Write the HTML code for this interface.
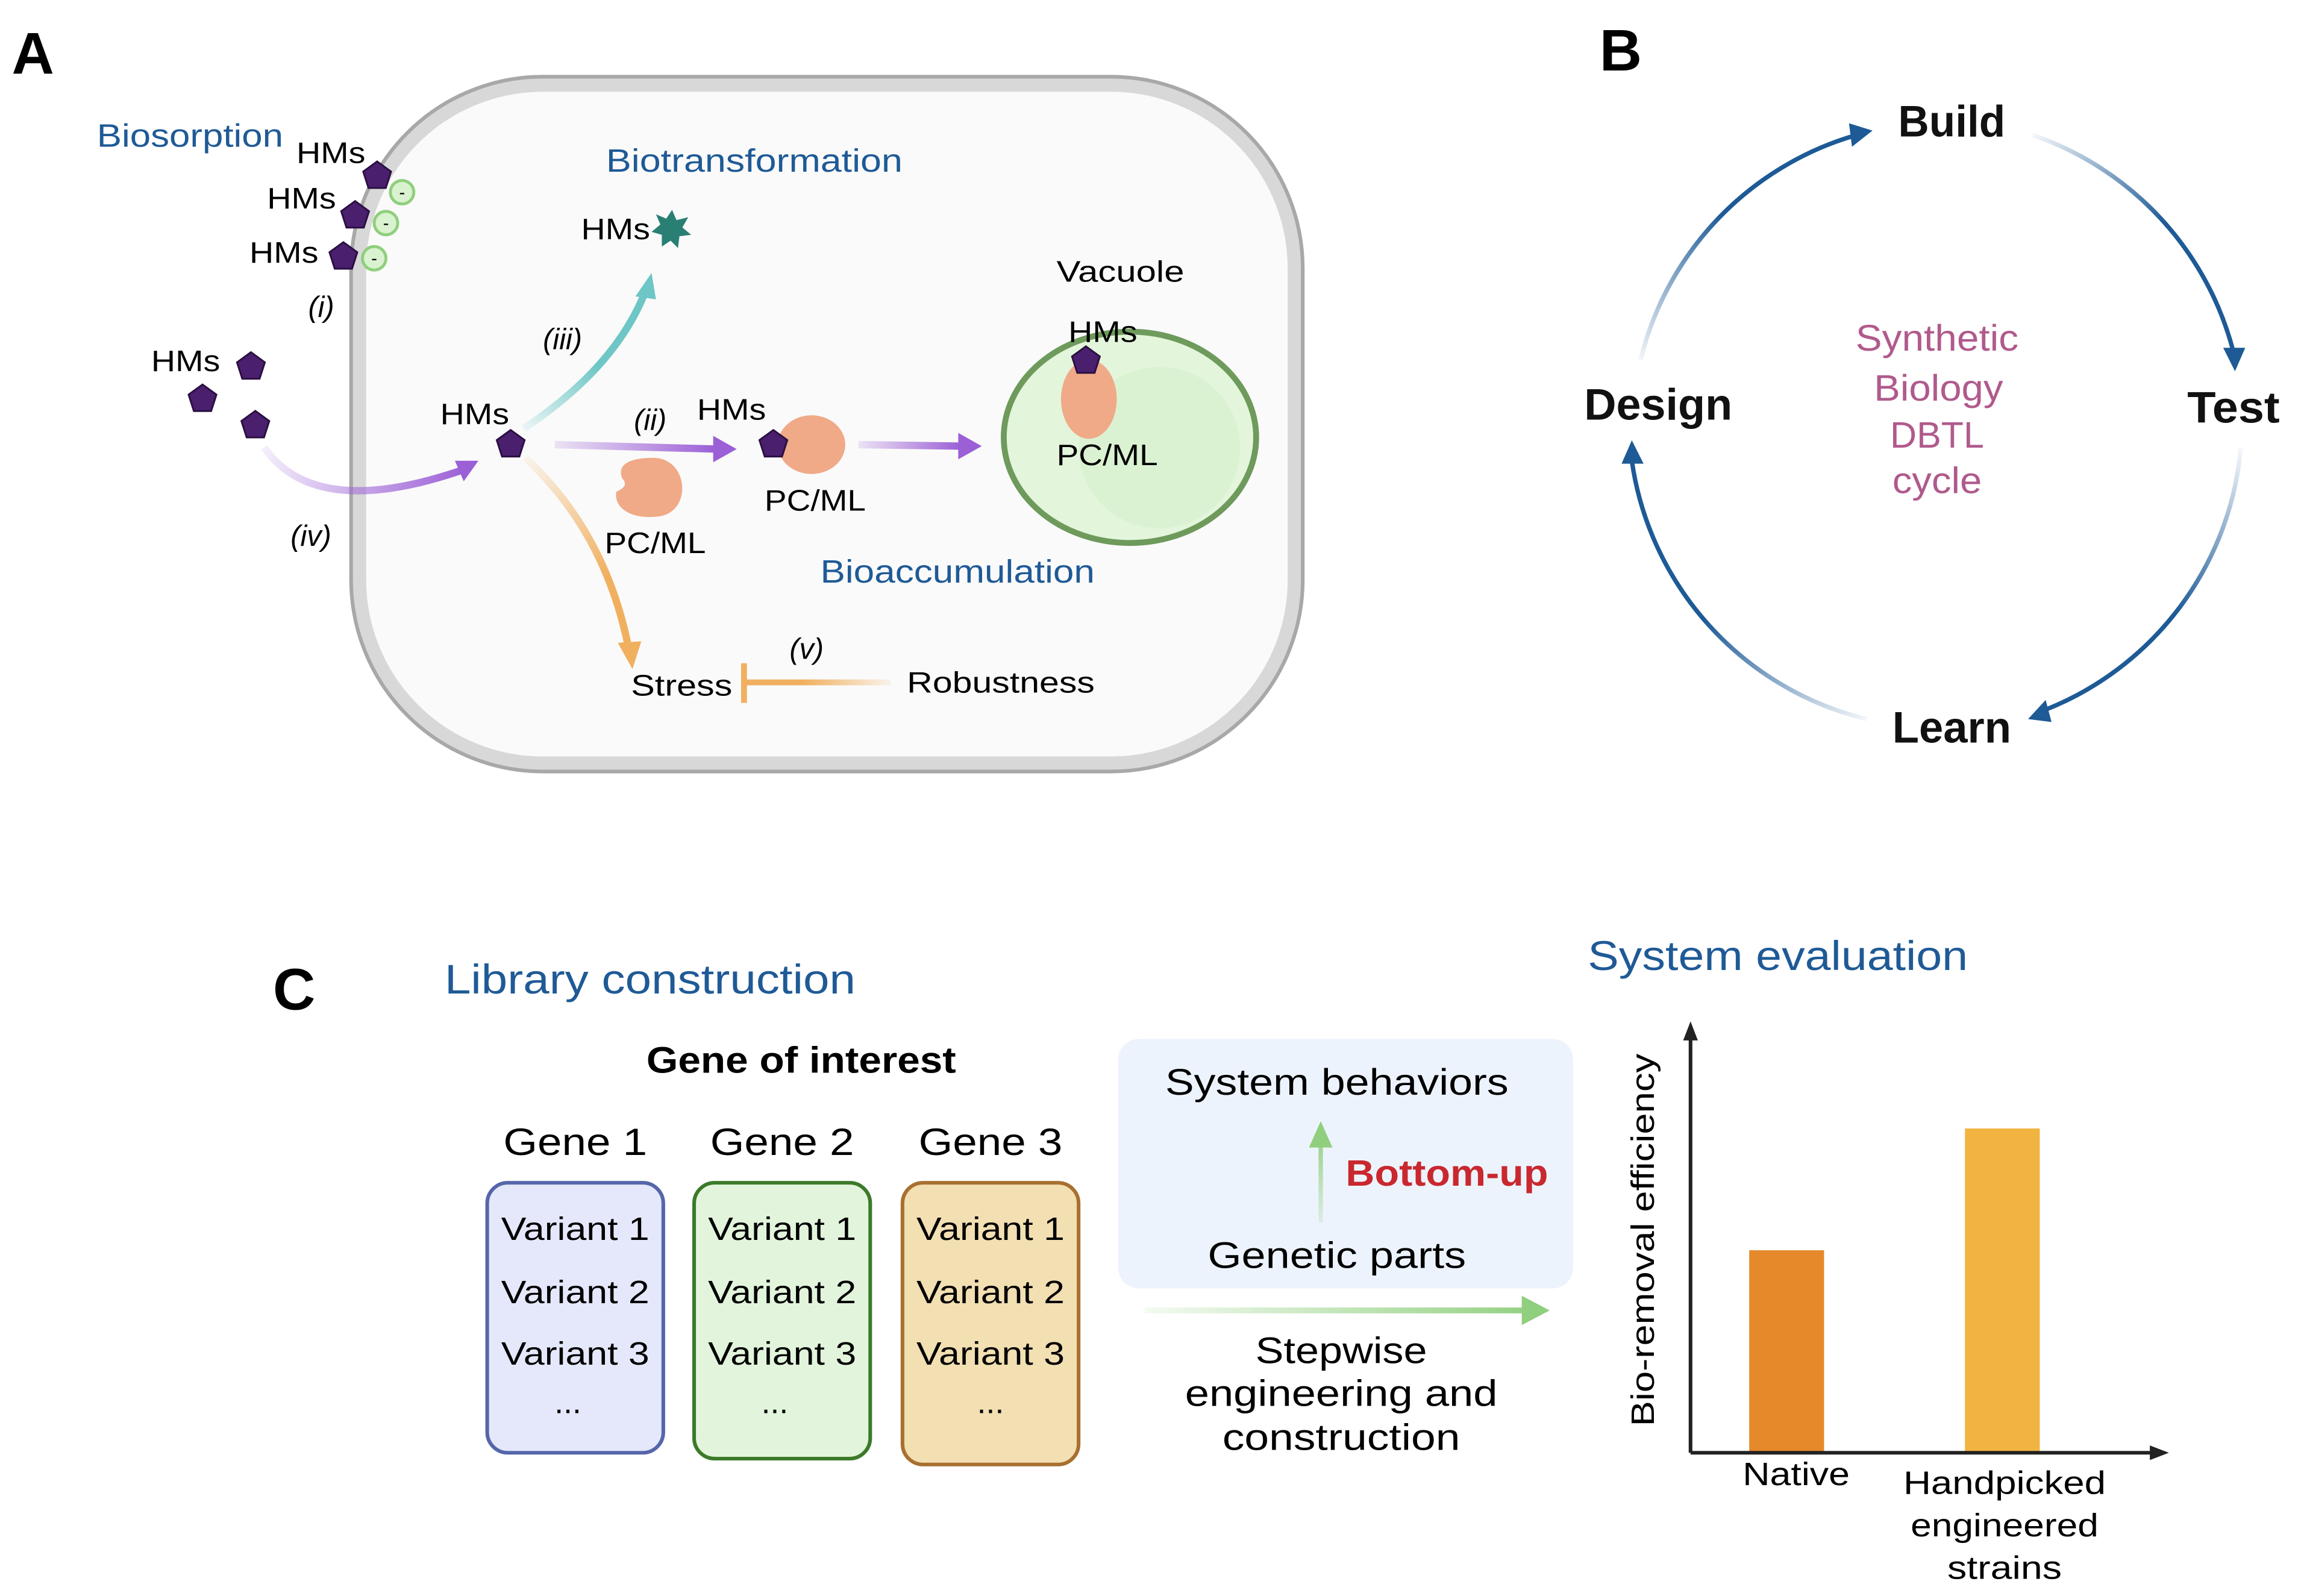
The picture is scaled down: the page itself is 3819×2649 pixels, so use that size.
<!DOCTYPE html>
<html><head><meta charset="utf-8"><style>
html,body{margin:0;padding:0;background:#fff;}
svg{display:block;}
text{font-family:"Liberation Sans","DejaVu Sans",sans-serif;}
</style></head><body>
<svg width="3819" height="2649" viewBox="0 0 1568 1087.6" xmlns="http://www.w3.org/2000/svg">
<defs>
<linearGradient id="gPur" x1="0" y1="0" x2="1" y2="0"><stop offset="0" stop-color="#9b5fd6" stop-opacity="0.15"/><stop offset="1" stop-color="#9b5fd6"/></linearGradient>
<linearGradient id="gPur2" gradientUnits="userSpaceOnUse" x1="180" y1="300" x2="320" y2="320"><stop offset="0" stop-color="#9b5fd6" stop-opacity="0.1"/><stop offset="1" stop-color="#9b5fd6"/></linearGradient>
<linearGradient id="gCy" gradientUnits="userSpaceOnUse" x1="360" y1="295" x2="445" y2="195"><stop offset="0" stop-color="#6ec6c6" stop-opacity="0.1"/><stop offset="0.5" stop-color="#6ec6c6"/></linearGradient>
<linearGradient id="gOr" gradientUnits="userSpaceOnUse" x1="360" y1="312" x2="432" y2="455"><stop offset="0" stop-color="#f0b060" stop-opacity="0.1"/><stop offset="0.6" stop-color="#f0b060"/></linearGradient>
<linearGradient id="gOr2" gradientUnits="userSpaceOnUse" x1="607" y1="0" x2="507" y2="0"><stop offset="0" stop-color="#f0b060" stop-opacity="0.1"/><stop offset="0.6" stop-color="#f0b060"/></linearGradient>
<linearGradient id="gGr" gradientUnits="userSpaceOnUse" x1="780" y1="0" x2="1055" y2="0"><stop offset="0" stop-color="#8fcf7d" stop-opacity="0.1"/><stop offset="1" stop-color="#8fcf7d"/></linearGradient>
<linearGradient id="gGrV" gradientUnits="userSpaceOnUse" x1="0" y1="832" x2="0" y2="768"><stop offset="0" stop-color="#8fcf7d" stop-opacity="0.2"/><stop offset="1" stop-color="#8fcf7d"/></linearGradient>
<linearGradient id="b1" gradientUnits="userSpaceOnUse" x1="1115" y1="245" x2="1275" y2="90"><stop offset="0" stop-color="#1d5a96" stop-opacity="0.05"/><stop offset="0.5" stop-color="#1d5a96"/></linearGradient>
<linearGradient id="b2" gradientUnits="userSpaceOnUse" x1="1385" y1="92" x2="1523" y2="250"><stop offset="0" stop-color="#1d5a96" stop-opacity="0.05"/><stop offset="0.5" stop-color="#1d5a96"/></linearGradient>
<linearGradient id="b3" gradientUnits="userSpaceOnUse" x1="1525" y1="305" x2="1385" y2="488"><stop offset="0" stop-color="#1d5a96" stop-opacity="0.05"/><stop offset="0.5" stop-color="#1d5a96"/></linearGradient>
<linearGradient id="b4" gradientUnits="userSpaceOnUse" x1="1272" y1="490" x2="1112" y2="302"><stop offset="0" stop-color="#1d5a96" stop-opacity="0.05"/><stop offset="0.5" stop-color="#1d5a96"/></linearGradient>
<polygon id="pent" points="0,-10 9.5,-3.1 5.9,8.1 -5.9,8.1 -9.5,-3.1" fill="#4a1f6e" stroke="#2a0f40" stroke-width="1.2"/>
</defs>

<!-- Panel A -->
<text x="8" y="50" font-size="40" font-weight="bold">A</text>
<rect x="245" y="58" width="637" height="462" rx="125" fill="#fafafa" stroke="#a8a8a8" stroke-width="14"/>
<rect x="245" y="58" width="637" height="462" rx="125" fill="#fafafa" stroke="#d8d8d8" stroke-width="9"/>

<text x="66" y="100" font-size="22" fill="#1f5a96" textLength="127" lengthAdjust="spacingAndGlyphs">Biosorption</text>
<text x="202" y="111" font-size="20" textLength="47" lengthAdjust="spacingAndGlyphs">HMs</text>
<text x="182" y="142" font-size="20" textLength="47" lengthAdjust="spacingAndGlyphs">HMs</text>
<text x="170" y="179" font-size="20" textLength="47" lengthAdjust="spacingAndGlyphs">HMs</text>
<use href="#pent" x="257" y="120"/><use href="#pent" x="242" y="147"/><use href="#pent" x="234" y="175"/>
<g fill="#d9f2cf" stroke="#8fcf7d" stroke-width="2">
<circle cx="274" cy="131" r="8"/><circle cx="263" cy="152" r="8"/><circle cx="255" cy="176" r="8"/></g>
<g font-size="12" text-anchor="middle"><text x="274" y="135">-</text><text x="263" y="156">-</text><text x="255" y="180">-</text></g>
<text x="210" y="216" font-size="20" font-style="italic">(i)</text>

<text x="103" y="253" font-size="20" textLength="47" lengthAdjust="spacingAndGlyphs">HMs</text>
<use href="#pent" x="171" y="250"/><use href="#pent" x="138" y="272"/><use href="#pent" x="174" y="290"/>
<path d="M180,305 Q215,355 316,320" fill="none" stroke="url(#gPur2)" stroke-width="5"/>
<polygon points="326,314 310,314 316,328" fill="#9b5fd6"/>
<text x="198" y="372" font-size="20" font-style="italic">(iv)</text>

<text x="300" y="289" font-size="20" textLength="47" lengthAdjust="spacingAndGlyphs">HMs</text>
<use href="#pent" x="348" y="303"/>
<path d="M357,292 Q420,250 440,198" fill="none" stroke="url(#gCy)" stroke-width="5"/>
<polygon points="444,186 433,202 447,204" fill="#6ec6c6"/>
<text x="370" y="238" font-size="20" font-style="italic">(iii)</text>
<text x="413" y="117" font-size="22" fill="#1f5a96" textLength="202" lengthAdjust="spacingAndGlyphs">Biotransformation</text>
<text x="396" y="163" font-size="20" textLength="47" lengthAdjust="spacingAndGlyphs">HMs</text>
<polygon points="458,143 461,150 469,148 465,155 471,160 463,161 462,169 457,164 451,168 451,160 444,158 450,153 447,146 454,149" fill="#2a7f74"/>

<text x="432" y="293" font-size="20" font-style="italic">(ii)</text>
<line x1="378" y1="303" x2="488" y2="306" stroke="url(#gPur)" stroke-width="5"/>
<polygon points="502,306 486,297 486,315" fill="#9b5fd6"/>
<text x="475" y="286" font-size="20" textLength="47" lengthAdjust="spacingAndGlyphs">HMs</text>
<ellipse cx="553" cy="303" rx="23" ry="20" fill="#f0aa88"/>
<use href="#pent" x="527" y="303"/>
<text x="521" y="348" font-size="20" textLength="69" lengthAdjust="spacingAndGlyphs">PC/ML</text>
<path d="M445,312 C470,312 472,350 448,352 C430,354 418,346 420,335 C425,333 428,330 424,326 C420,316 430,312 445,312Z" fill="#f0aa88"/>
<text x="412" y="377" font-size="20" textLength="69" lengthAdjust="spacingAndGlyphs">PC/ML</text>
<line x1="585" y1="303" x2="655" y2="304" stroke="url(#gPur)" stroke-width="5"/>
<polygon points="669,304 653,295 653,313" fill="#9b5fd6"/>

<text x="720" y="192" font-size="20" textLength="87" lengthAdjust="spacingAndGlyphs">Vacuole</text>
<ellipse cx="770" cy="298" rx="86" ry="72" fill="#e3f5db" stroke="#6e9a5c" stroke-width="4"/>
<ellipse cx="790" cy="305" rx="55" ry="55" fill="#d6f0cc" opacity="0.6"/>
<ellipse cx="742" cy="272" rx="19" ry="27" fill="#f0aa88"/>
<use href="#pent" x="740" y="246"/>
<text x="728" y="233" font-size="20" textLength="47" lengthAdjust="spacingAndGlyphs">HMs</text>
<text x="720" y="317" font-size="20" textLength="69" lengthAdjust="spacingAndGlyphs">PC/ML</text>
<text x="559" y="397" font-size="22" fill="#1f5a96" textLength="187" lengthAdjust="spacingAndGlyphs">Bioaccumulation</text>

<path d="M358,312 Q412,362 428,440" fill="none" stroke="url(#gOr)" stroke-width="5"/>
<polygon points="431,456 421,438 437,437" fill="#f0b060"/>
<text x="430" y="474" font-size="20" textLength="69" lengthAdjust="spacingAndGlyphs">Stress</text>
<line x1="507" y1="452" x2="507" y2="479" stroke="#f0b060" stroke-width="4"/>
<line x1="507" y1="465" x2="607" y2="465" stroke="url(#gOr2)" stroke-width="4"/>
<text x="538" y="449" font-size="20" font-style="italic">(v)</text>
<text x="618" y="472" font-size="20" textLength="128" lengthAdjust="spacingAndGlyphs">Robustness</text>

<!-- Panel B -->
<text x="1090" y="48" font-size="40" font-weight="bold">B</text>
<path d="M1118,245 A212,212 0 0,1 1265,92" fill="none" stroke="url(#b1)" stroke-width="3"/>
<polygon points="1276,89 1260,84 1262,100" fill="#1d5a96"/>
<path d="M1385,92 A212,212 0 0,1 1522,240" fill="none" stroke="url(#b2)" stroke-width="3"/>
<polygon points="1523,253 1515,237 1530,237" fill="#1d5a96"/>
<path d="M1527,305 A212,212 0 0,1 1393,484" fill="none" stroke="url(#b3)" stroke-width="3"/>
<polygon points="1382,490 1394,477 1398,492" fill="#1d5a96"/>
<path d="M1272,490 A212,212 0 0,1 1112,314" fill="none" stroke="url(#b4)" stroke-width="3"/>
<polygon points="1112,300 1105,316 1120,316" fill="#1d5a96"/>
<g font-size="30" font-weight="bold" text-anchor="middle" fill="#111">
<text x="1330" y="93" textLength="73" lengthAdjust="spacingAndGlyphs">Build</text><text x="1522" y="288" textLength="63" lengthAdjust="spacingAndGlyphs">Test</text><text x="1330" y="506" textLength="81" lengthAdjust="spacingAndGlyphs">Learn</text><text x="1130" y="286" textLength="101" lengthAdjust="spacingAndGlyphs">Design</text></g>
<g font-size="25" text-anchor="middle" fill="#b05a8c">
<text x="1320" y="239" textLength="111" lengthAdjust="spacingAndGlyphs">Synthetic</text><text x="1321" y="273" textLength="88" lengthAdjust="spacingAndGlyphs">Biology</text><text x="1320" y="305" textLength="64" lengthAdjust="spacingAndGlyphs">DBTL</text><text x="1320" y="336" textLength="61" lengthAdjust="spacingAndGlyphs">cycle</text></g>

<!-- Panel C -->
<text x="186" y="688" font-size="40" font-weight="bold">C</text>
<text x="303" y="677" font-size="28" fill="#1f5a96" textLength="280" lengthAdjust="spacingAndGlyphs">Library construction</text>
<text x="546" y="731" font-size="25" font-weight="bold" text-anchor="middle" textLength="211" lengthAdjust="spacingAndGlyphs">Gene of interest</text>
<g font-size="26" text-anchor="middle"><text x="392" y="787" textLength="98" lengthAdjust="spacingAndGlyphs">Gene 1</text><text x="533" y="787" textLength="98" lengthAdjust="spacingAndGlyphs">Gene 2</text><text x="675" y="787" textLength="98" lengthAdjust="spacingAndGlyphs">Gene 3</text></g>
<rect x="332" y="806" width="120" height="184" rx="14" fill="#e5e8fb" stroke="#5566aa" stroke-width="2.5"/>
<rect x="473" y="806" width="120" height="188" rx="14" fill="#e2f5dc" stroke="#3c7a2a" stroke-width="2.5"/>
<rect x="615" y="806" width="120" height="192" rx="14" fill="#f2dfb2" stroke="#a87030" stroke-width="2.5"/>
<g font-size="22" text-anchor="middle">
<text x="392" y="845" textLength="101" lengthAdjust="spacingAndGlyphs">Variant 1</text><text x="392" y="888" textLength="101" lengthAdjust="spacingAndGlyphs">Variant 2</text><text x="392" y="930" textLength="101" lengthAdjust="spacingAndGlyphs">Variant 3</text><text x="387" y="963">...</text>
<text x="533" y="845" textLength="101" lengthAdjust="spacingAndGlyphs">Variant 1</text><text x="533" y="888" textLength="101" lengthAdjust="spacingAndGlyphs">Variant 2</text><text x="533" y="930" textLength="101" lengthAdjust="spacingAndGlyphs">Variant 3</text><text x="528" y="963">...</text>
<text x="675" y="845" textLength="101" lengthAdjust="spacingAndGlyphs">Variant 1</text><text x="675" y="888" textLength="101" lengthAdjust="spacingAndGlyphs">Variant 2</text><text x="675" y="930" textLength="101" lengthAdjust="spacingAndGlyphs">Variant 3</text><text x="675" y="963">...</text></g>

<rect x="762" y="708" width="310" height="170" rx="14" fill="#edf3fd"/>
<text x="911" y="746" font-size="25" text-anchor="middle" textLength="234" lengthAdjust="spacingAndGlyphs">System behaviors</text>
<text x="911" y="864" font-size="25" text-anchor="middle" textLength="176" lengthAdjust="spacingAndGlyphs">Genetic parts</text>
<line x1="900" y1="833" x2="900" y2="780" stroke="url(#gGrV)" stroke-width="3"/>
<polygon points="900,764 892,782 908,782" fill="#8fcf7d"/>
<text x="986" y="808" font-size="25" font-weight="bold" fill="#c8282e" text-anchor="middle" textLength="138" lengthAdjust="spacingAndGlyphs">Bottom-up</text>
<line x1="780" y1="893" x2="1040" y2="893" stroke="url(#gGr)" stroke-width="4"/>
<polygon points="1056,893 1037,883 1037,903" fill="#8fcf7d"/>
<g font-size="25" text-anchor="middle"><text x="914" y="929" textLength="117" lengthAdjust="spacingAndGlyphs">Stepwise</text><text x="914" y="958" textLength="213" lengthAdjust="spacingAndGlyphs">engineering and</text><text x="914" y="988" textLength="162" lengthAdjust="spacingAndGlyphs">construction</text></g>

<text x="1082" y="661" font-size="28" fill="#1f5a96" textLength="259" lengthAdjust="spacingAndGlyphs">System evaluation</text>
<rect x="1192" y="852" width="51" height="138" fill="#e5892b"/>
<rect x="1339" y="769" width="51" height="221" fill="#f2b441"/>
<line x1="1152" y1="990" x2="1152" y2="706" stroke="#222" stroke-width="2.5"/>
<polygon points="1152,696 1147,709 1157,709" fill="#222"/>
<line x1="1152" y1="990" x2="1468" y2="990" stroke="#222" stroke-width="2.5"/>
<polygon points="1478,990 1465,985 1465,995" fill="#222"/>
<text transform="translate(1127,845) rotate(-90)" font-size="22" text-anchor="middle" textLength="254" lengthAdjust="spacingAndGlyphs">Bio-removal efficiency</text>
<g font-size="22" text-anchor="middle"><text x="1224" y="1012" textLength="73" lengthAdjust="spacingAndGlyphs">Native</text><text x="1366" y="1018" textLength="138" lengthAdjust="spacingAndGlyphs">Handpicked</text><text x="1366" y="1047" textLength="128" lengthAdjust="spacingAndGlyphs">engineered</text><text x="1366" y="1076" textLength="78" lengthAdjust="spacingAndGlyphs">strains</text></g>
</svg>
</body></html>
